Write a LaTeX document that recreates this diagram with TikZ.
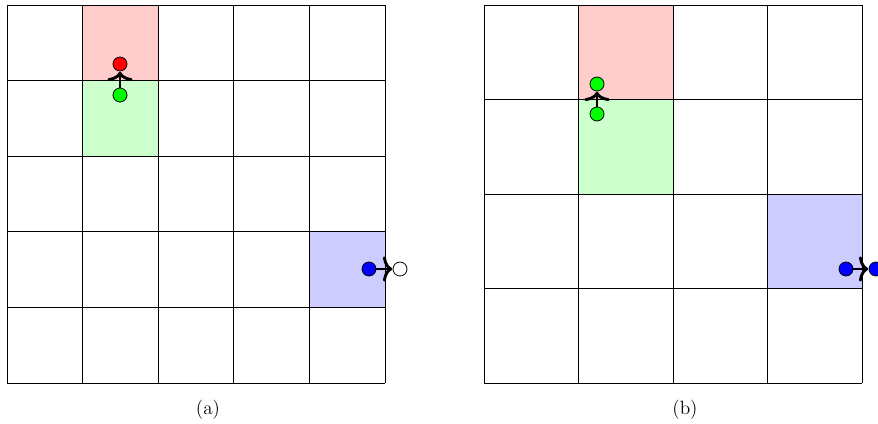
\documentclass[tikz,border=0pt]{standalone}
\usetikzlibrary{arrows.meta}
\begin{document}
\begin{tikzpicture}[x=0.75pt,y=-0.75pt,
  dot/.style={circle,draw=black,line width=0.6pt,minimum size=10.5pt,inner sep=0pt},
  arr/.style={line width=2.2pt,-{Computer Modern Rightarrow[width=19pt,length=7pt]},shorten >=0.3pt},
  gridline/.style={line width=0.6pt,black},
  captext/.style={font=\Large}]
\useasboundingbox (0,0) rectangle (878,424);
% ---- left panel (a)
\fill[red!20]   (82.6,5) rectangle (158.2,80.6);
\fill[green!20] (82.6,80.6) rectangle (158.2,156.2);
\fill[blue!20]  (309.4,231.8) rectangle (385,307.4);
\foreach \i in {0,...,5}{
  \draw[gridline] (7+\i*75.6,5) -- (7+\i*75.6,383);
  \draw[gridline] (7,5+\i*75.6) -- (385,5+\i*75.6);
}
\node[dot,fill=red]   (ra) at (120,64) {};
\node[dot,fill=green] (ga) at (120,95) {};
\draw[arr] (ga) -- (ra);
\node[dot,fill=blue]  (ba) at (369,269) {};
\node[dot,fill=white] (wa) at (400,269) {};
\draw[arr] (ba) -- (wa);
\node[captext] (capa) at (208,410) {(a)};
% ---- right panel (b)
\fill[red!20]   (578.5,5) rectangle (673,99.5);
\fill[green!20] (578.5,99.5) rectangle (673,194);
\fill[blue!20]  (767.5,194) rectangle (862,288.5);
\foreach \i in {0,...,4}{
  \draw[gridline] (484+\i*94.5,5) -- (484+\i*94.5,383);
  \draw[gridline] (484,5+\i*94.5) -- (862,5+\i*94.5);
}
\node[dot,fill=green] (tb) at (597,84) {};
\node[dot,fill=green] (gb) at (597,114) {};
\draw[arr] (gb) -- (tb);
\node[dot,fill=blue]  (bb) at (846,269) {};
\node[dot,fill=blue]  (cb) at (876,269) {};
\draw[arr] (bb) -- (cb);
\node[captext] (capb) at (685,410) {(b)};
\end{tikzpicture}
\end{document}
